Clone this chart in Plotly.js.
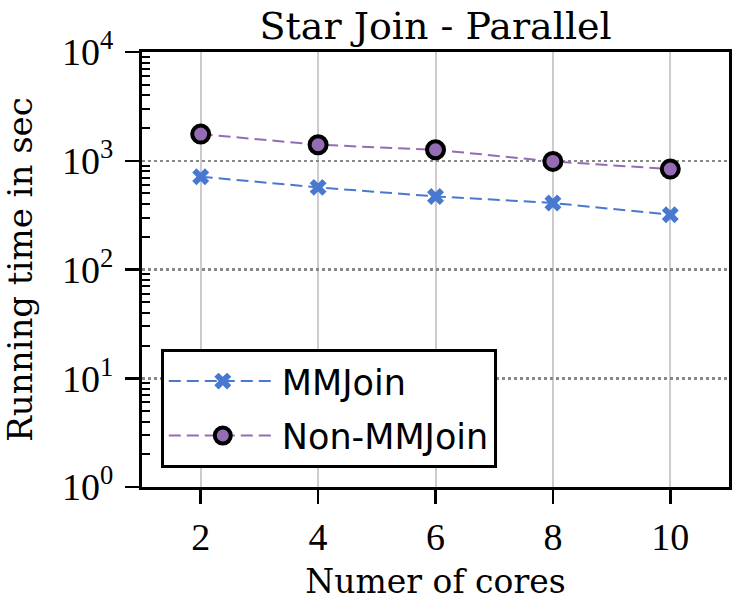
<!DOCTYPE html>
<html>
<head>
<meta charset="utf-8">
<script src="https://cdn.plot.ly/plotly-3.0.1.min.js"></script>
<style>html,body{margin:0;padding:0;background:#fff;}#chart{width:734px;height:606px;}</style>
</head>
<body>
<div id="chart"></div>
<script>
// Data
const cores = [2, 4, 6, 8, 10];
const mmjoin = [713, 569, 470, 409, 319];
const nonMmjoin = [1758, 1403, 1262, 986, 838];
const seriesNames = ["MMJoin", "Non-MMJoin"];
const xTickVals = [2, 4, 6, 8, 10];
const xTickText = ["2", "4", "6", "8", "10"];
const yTickVals = [1, 10, 100, 1000, 10000];
const yTickText = ["10<sup>0</sup>", "10<sup>1</sup>", "10<sup>2</sup>", "10<sup>3</sup>", "10<sup>4</sup>"];
const yMinorTicks = [2,3,4,5,6,7,8,9,20,30,40,50,60,70,80,90,200,300,400,500,600,700,800,900,2000,3000,4000,5000,6000,7000,8000,9000];

const serif = "DejaVu Serif, serif";
const tickSerif = "Liberation Serif, serif";

const traces = [
  {
    x: cores, y: mmjoin, name: seriesNames[0], type: "scatter", mode: "lines+markers",
    legendgroup: "a",
    line: {color: "#4878CF", width: 2, dash: "12px,6px"},
    marker: {symbol: "x", size: 15, color: "#4878CF", line: {width: 0}}
  },
  {
    x: cores, y: nonMmjoin, name: seriesNames[1], type: "scatter", mode: "lines+markers",
    legendgroup: "b",
    line: {color: "#956CB4", width: 2, dash: "12px,6px"},
    marker: {symbol: "circle", size: 17, color: "#956CB4", line: {color: "#000", width: 4}}
  }
];

const layout = {
  width: 734, height: 606,
  margin: {l: 142, r: 5, t: 52, b: 119},
  paper_bgcolor: "#fff", plot_bgcolor: "#fff",
  title: {text: "Star Join - Parallel", font: {family: serif, size: 38, color: "#000"},
          x: 0.5935, xref: "container", xanchor: "center", y: 0.957, yref: "container", yanchor: "middle"},
  xaxis: {
    range: [1, 11], tickvals: xTickVals, ticktext: xTickText,
    ticks: "outside", ticklen: 14, tickwidth: 2.5, tickcolor: "#000",
    ticklabelstandoff: 0,
    tickfont: {family: tickSerif, size: 38, color: "#000"},
    showline: true, linecolor: "#000", linewidth: 3, mirror: true,
    showgrid: true, gridcolor: "#cccccc", gridwidth: 2, zeroline: false,
    title: {text: "Numer of cores", font: {family: serif, size: 33, color: "#000"}, standoff: 14}
  },
  yaxis: {
    type: "log", range: [0, 4], tickvals: yTickVals, ticktext: yTickText,
    ticks: "outside", ticklen: 14, tickwidth: 2.5, tickcolor: "#000",
    ticklabelstandoff: 4,
    tickfont: {family: tickSerif, size: 38, color: "#000"},
    showline: true, linecolor: "#000", linewidth: 3, mirror: true,
    showgrid: true, gridcolor: "#888888", gridwidth: 2.5, griddash: "dot", zeroline: false,
    minor: {tickvals: yMinorTicks, ticks: "inside", ticklen: 8, tickwidth: 2, tickcolor: "#000", showgrid: false},
    title: {text: "Running time in sec", font: {family: serif, size: 34, color: "#000"}, standoff: 22}
  },
  yaxis2: {
    type: "log", range: [0, 4], overlaying: "y", side: "right", anchor: "x",
    showticklabels: false, ticks: "", showgrid: false, zeroline: false, showline: false,
    minor: {tickvals: yMinorTicks, ticks: "inside", ticklen: 8, tickwidth: 2, tickcolor: "#000", showgrid: false}
  },
  legend: {
    x: 0.032, y: 0.044, xanchor: "left", yanchor: "bottom",
    bgcolor: "#fff", bordercolor: "#000", borderwidth: 3,
    font: {family: "DejaVu Sans, sans-serif", size: 35, color: "#000"},
    itemwidth: 108, tracegroupgap: 6, traceorder: "grouped"
  },
  showlegend: true
};

Plotly.newPlot("chart", traces, layout, {displayModeBar: false, staticPlot: true});
</script>
</body>
</html>
